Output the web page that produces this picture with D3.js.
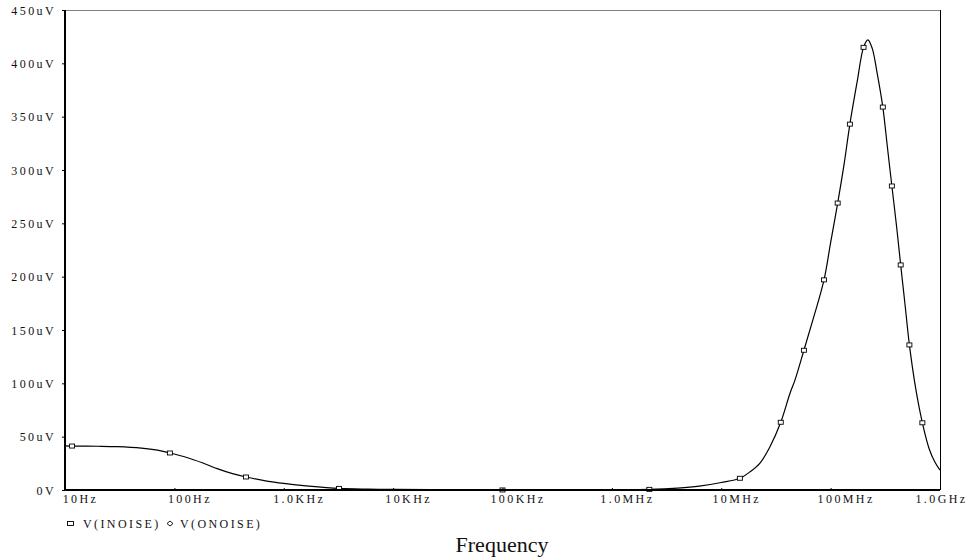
<!DOCTYPE html>
<html>
<head>
<meta charset="utf-8">
<script src="https://cdn.jsdelivr.net/npm/d3@7/dist/d3.min.js"></script>
<style>
  html, body { margin: 0; padding: 0; background: #fff; }
  svg { display: block; }
  svg text.lbl { font-family: "Liberation Serif", "Times New Roman", serif !important; font-size: 12px !important; letter-spacing: 2.4px; fill: #111; }
  .title { font-family: "Liberation Serif", "Times New Roman", serif; font-size: 22px; fill: #111; }
</style>
</head>
<body>
<svg id="chart" width="975" height="560"></svg>
<script>
// Trace V(INOISE): frequency (Hz) and noise voltage (uV)
const curveFreq = [10, 11.6, 20, 30, 50, 70, 91, 130, 180, 250, 340, 452, 700, 1000, 1700, 3200, 6000, 10000, 30000, 100000, 400000, 1000000, 2200000, 4000000, 6300000, 10000000, 14800000, 18300000, 22600000, 27900000, 35000000, 42600000, 47200000, 57000000, 70000000, 87000000, 100000000, 116000000, 133000000, 150000000, 175000000, 200000000, 219000000, 240000000, 265000000, 300000000, 330000000, 363000000, 400000000, 437000000, 480000000, 525000000, 600000000, 690000000, 800000000, 900000000, 1000000000];
const curveVal  = [41.3, 41.2, 41.0, 40.6, 39.2, 37.3, 34.7, 30.5, 25.5, 19.8, 15.3, 12.2, 8.4, 6.2, 3.7, 1.5, 0.8, 0.5, 0.2, 0.05, 0.15, 0.3, 0.6, 1.8, 3.6, 7.0, 11.0, 17.0, 25.3, 40.6, 63.5, 91.0, 103.0, 131.0, 162.0, 197.0, 232.0, 269.0, 306.0, 343.0, 383.0, 415.0, 422.0, 414.0, 392.0, 359.0, 322.0, 285.0, 248.0, 211.0, 173.0, 136.0, 95.0, 63.0, 38.0, 26.0, 18.7];

// Marker symbols placed along the trace
const markerFreq = [11.6, 91, 452, 3200, 100000, 2200000, 14800000, 35000000, 57000000, 87000000, 116000000, 150000000, 200000000, 300000000, 363000000, 437000000, 525000000, 690000000];
const markerVal  = [41.2, 34.7, 12.2, 1.5, 0.05, 0.6, 11.0, 63.5, 131.0, 197.0, 269.0, 343.0, 415.0, 359.0, 285.0, 211.0, 136.0, 63.0];

const xTickVals   = [10, 100, 1000, 10000, 100000, 1000000, 10000000, 100000000, 1000000000];
const xTickLabels = ["10Hz", "100Hz", "1.0KHz", "10KHz", "100KHz", "1.0MHz", "10MHz", "100MHz", "1.0GHz"];
const yTickVals   = [0, 50, 100, 150, 200, 250, 300, 350, 400, 450];
const yTickLabels = ["0V", "50uV", "100uV", "150uV", "200uV", "250uV", "300uV", "350uV", "400uV", "450uV"];
const legendItems = ["V(INOISE)", "V(ONOISE)"];
const xTitle = "Frequency";

const svg = d3.select("#chart");
const L = 65, R = 940, T = 10, B = 490;
const SERIF = '"Liberation Serif", "Times New Roman", serif';

const x = d3.scaleLog().domain([10, 1e9]).range([L, R]);
const y = d3.scaleLinear().domain([0, 450]).range([B, T]);

// frame: top (gray) and right
svg.append("line").attr("x1", L).attr("x2", R).attr("y1", T + 0.5).attr("y2", T + 0.5)
  .attr("stroke", "#808080").attr("stroke-width", 1);
svg.append("line").attr("x1", R + 0.5).attr("x2", R + 0.5).attr("y1", T).attr("y2", B)
  .attr("stroke", "#000").attr("stroke-width", 1);

// trace
const pts = curveFreq.map((f, i) => [f, curveVal[i]]);
const line = d3.line().x(d => x(d[0])).y(d => Math.min(B, y(d[1]))).curve(d3.curveCatmullRom.alpha(0.5));
svg.append("path").datum(pts).attr("d", line)
  .attr("fill", "none").attr("stroke", "#000").attr("stroke-width", 1.2);

// markers
svg.append("g").selectAll("rect").data(markerFreq.map((f, i) => [f, markerVal[i]])).join("rect")
  .attr("x", d => x(d[0]) - 2.5).attr("y", d => y(d[1]) - 2)
  .attr("width", 5).attr("height", 4)
  .attr("fill", "#fff").attr("stroke", "#000").attr("stroke-width", 0.9);

// y axis
const yAxis = svg.append("g").attr("transform", `translate(${L},0)`)
  .call(d3.axisLeft(y).tickValues(yTickVals).tickSize(3).tickFormat((d, i) => yTickLabels[i]));
yAxis.attr("font-family", SERIF).attr("font-size", 12);
yAxis.select(".domain").attr("stroke", "#000").attr("stroke-width", 2).attr("d", `M0,${T}V${B}`);
yAxis.selectAll(".tick line").attr("stroke", "#000");
yAxis.selectAll(".tick text").attr("class", "lbl").attr("x", -9).attr("dy", null).attr("y", 4)
  .attr("text-anchor", "end").attr("fill", null);

// x axis
const xAxis = svg.append("g").attr("transform", `translate(0,${B})`)
  .call(d3.axisBottom(x).tickValues(xTickVals).tickSize(-2).tickFormat((d, i) => xTickLabels[i]));
xAxis.attr("font-family", SERIF).attr("font-size", 12);
xAxis.select(".domain").attr("stroke", "#000").attr("stroke-width", 2).attr("d", `M${L},0H${R}`);
xAxis.selectAll(".tick line").attr("stroke", "#000");
xAxis.selectAll(".tick text").attr("class", "lbl").attr("y", 13).attr("dy", null)
  .attr("x", (d, i) => i === xTickVals.length - 1 ? 1 : 15)
  .attr("text-anchor", "middle").attr("fill", null);

// legend
const lg = svg.append("g").attr("font-family", SERIF).attr("font-size", 12);
lg.append("rect").attr("x", 67.5).attr("y", 521.5).attr("width", 6).attr("height", 4)
  .attr("fill", "#fff").attr("stroke", "#000").attr("stroke-width", 0.9);
lg.append("text").attr("class", "lbl").attr("x", 83).attr("y", 528).text(legendItems[0]);
lg.append("path").attr("d", "M167,523.5 l3,-2.5 l3,2.5 l-3,2.5 z")
  .attr("fill", "#fff").attr("stroke", "#000").attr("stroke-width", 0.9);
lg.append("text").attr("class", "lbl").attr("x", 180).attr("y", 528).text(legendItems[1]);

// title
svg.append("text").attr("class", "title").attr("x", 502).attr("y", 552)
  .attr("text-anchor", "middle").text(xTitle);
</script>
</body>
</html>
